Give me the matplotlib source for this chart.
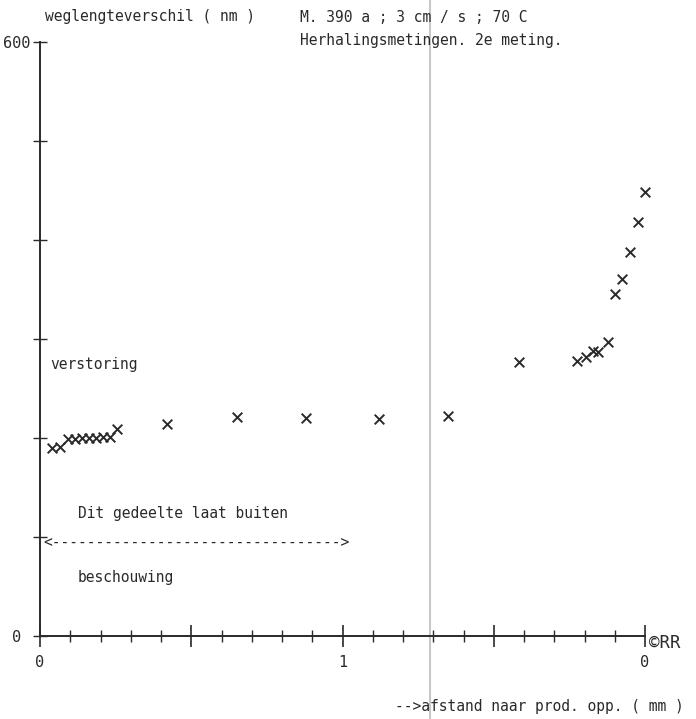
import matplotlib.pyplot as plt
import matplotlib.ticker as mticker
from matplotlib.lines import Line2D

# afstand naar prod. opp. (mm) en weglengteverschil (nm)
afstand = [0.040, 0.066, 0.092, 0.115, 0.138, 0.161, 0.185, 0.208, 0.231, 0.254,
           0.42, 0.65, 0.88, 1.12, 1.35, 1.585,
           1.776, 1.806, 1.829, 1.845, 1.878, 1.901, 1.924, 1.951, 1.977, 2.0]
weglengte = [190, 191, 199, 199, 200, 200, 200, 201, 201, 209,
             214, 221, 220, 219, 222, 277,
             278, 282, 288, 287, 297, 345, 361, 388, 418, 448]

x_ticks = [0, 0.5, 1, 1.5, 2]
x_tick_labels = ["0", "", "1", "", "0"]
y_ticks = [0, 100, 200, 300, 400, 500, 600]
y_tick_labels = ["0 ", "", "", "", "", "", "600"]

ink = "#2a2a2a"
mono = "DejaVu Sans Mono"
plt.rcParams["font.family"] = mono

fig = plt.figure(figsize=(6.96, 7.19), dpi=100)
ax = fig.add_axes([40 / 696, 83 / 719, 605 / 696, 594 / 719])
ax.set_facecolor("none")

ax.scatter(afstand, weglengte, marker="x", s=48, linewidths=1.4, color=ink, zorder=3,
           clip_on=False)

ax.set_xlim(0, 2)
ax.set_ylim(0, 600)
for side in ("top", "right"):
    ax.spines[side].set_visible(False)
for side in ("left", "bottom"):
    ax.spines[side].set_color(ink)
    ax.spines[side].set_linewidth(1.4)

ax.xaxis.set_major_locator(mticker.FixedLocator(x_ticks))
ax.xaxis.set_major_formatter(mticker.FixedFormatter(x_tick_labels))
ax.xaxis.set_minor_locator(mticker.MultipleLocator(0.1))
ax.yaxis.set_major_locator(mticker.FixedLocator(y_ticks))
ax.yaxis.set_major_formatter(mticker.FixedFormatter(y_tick_labels))
ax.tick_params(axis="x", which="major", direction="inout", length=16, width=1.2,
               color=ink, labelsize=11, labelcolor=ink, pad=6)
ax.tick_params(axis="x", which="minor", direction="inout", length=9, width=1.0, color=ink)
ax.tick_params(axis="y", which="major", direction="inout", length=10, width=1.0,
               color=ink, labelsize=11, labelcolor=ink, pad=2)

# teksten
ax.text(0.033, 274, "verstoring", fontsize=10.5, color=ink, va="center")
ax.text(0.125, 124, "Dit gedeelte laat buiten", fontsize=10.5, color=ink, va="center")
ax.text(0.012, 94, "<" + "-" * 33 + ">", fontsize=10.5, color=ink, va="center")
ax.text(0.125, 59, "beschouwing", fontsize=10.5, color=ink, va="center")

fig.text(45 / 696, 1 - 17 / 719, "weglengteverschil ( nm )", fontsize=10.5, color=ink,
         va="center")
fig.text(300 / 696, 1 - 17 / 719, "M. 390 a ; 3 cm / s ; 70 C", fontsize=10.5, color=ink,
         va="center")
fig.text(300 / 696, 1 - 40 / 719, "Herhalingsmetingen. 2e meting.", fontsize=10.5,
         color=ink, va="center")
fig.text(649 / 696, 1 - 643 / 719, "©RR", fontsize=12.5, color=ink, va="center")
fig.text(395 / 696, 8 / 719, "-->afstand naar prod. opp. ( mm )", fontsize=10.5,
         color=ink, va="baseline")

# vouwlijn van de scan
fig.add_artist(Line2D([430 / 696, 430 / 696], [0, 1], transform=fig.transFigure,
                      color="#c8c8c8", linewidth=1.5, zorder=0))

fig.savefig("out.png", dpi=100, facecolor="white")
